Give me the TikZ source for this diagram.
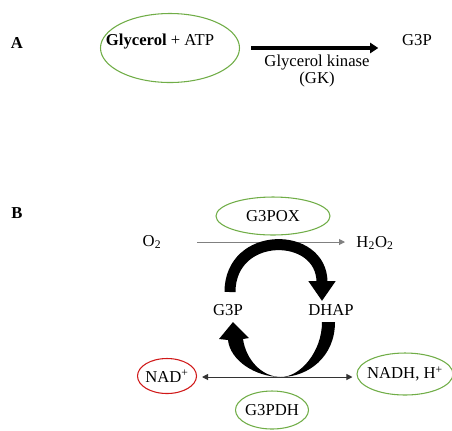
\documentclass[tikz,border=0pt]{standalone}
\usepackage{fontspec}
\setmainfont{Liberation Serif}
\usetikzlibrary{arrows.meta,shapes.geometric,calc}
\definecolor{leaf}{HTML}{70AD47}
\definecolor{brick}{HTML}{D01818}
\definecolor{rule}{HTML}{808080}
\definecolor{ink}{HTML}{333333}
\tikzset{px/.style={x=.75pt,y=-.75pt,line width=.75pt,font=\fontsize{12.5}{12.75}\selectfont},
  ring/.style={draw=#1,ellipse,inner sep=-8pt,line width=.8pt},
  tag/.style={font=\bfseries\fontsize{12.5}{15}\selectfont},
  flow/.style={line width=.75pt,-{Triangle[length=4.5pt,width=4.5pt]}},
  cyc/.style={line width=8.25pt,-{Triangle[length=15pt,width=19.5pt]}}}

\begin{document}
\begin{tikzpicture}[px]
  \useasboundingbox (0,0) rectangle (452,430);
  % A: glycerol kinase step
  \node[tag] (pa) at (17,43) {A};
  \node[ring=leaf,minimum width=104.25pt,minimum height=51.75pt] (gly) at (170,48) {};
  \node (sub) at (160,42) {\textbf{Glycerol} + ATP};
  \node (prod) at (417,40) {G3P};
  \draw[line width=3pt,-{Triangle[length=6pt,width=7.5pt]}] ($(gly.east)+(11,0)$) -- ($(prod.west |- gly.east)+(-19,0)$);
  \node[align=center] (gk) at (317,71) {Glycerol kinase\\(GK)};
  % B: G3P / DHAP shuttle
  \node[tag] (pb) at (17,213) {B};
  \node[ring=leaf,minimum width=85.5pt,minimum height=28.5pt] (gpox) at (273,216) {G3POX};
  \node (o2) at (152,242) {O\textsubscript{2}};
  \node (h2o2) at (375,243) {H\textsubscript{2}O\textsubscript{2}};
  \draw[flow,rule] ($(o2)+(45,0)$) -- ($(h2o2 |- o2)+(-30,0)$);
  \node (g3p) at (228,310) {G3P};
  \node (dhap) at (331,310) {DHAP};
  \draw[cyc] ($(g3p)+(2,-18)$) .. controls +(0,-62) and +(0,-70) .. ($(dhap)+(-9,-9)$);
  \fill ($(dhap)+(4,12)$) .. controls +(0,35) and +(27,0) .. ++(-54,55)
    .. controls +(-26,0) and +(2,20) .. ++(-53,-37)
    -- ++(-9,-1) -- ++(14,-17) -- ++(16,16) -- ++(-6,1)
    .. controls +(3,21) and +(-19,0) .. ++(38,38)
    .. controls +(19,0) and +(0,30) .. ++(41,-55) -- cycle;
  \node[ring=brick,minimum width=44.25pt,minimum height=26.25pt] (nad) at (167,376) {NAD\textsuperscript{+}};
  \node[ring=leaf,minimum width=72pt,minimum height=31.5pt] (nadh) at (405,374) {NADH, H\textsuperscript{+}};
  \draw[flow,ink,{Triangle[length=4.5pt,width=4.5pt]}-{Triangle[length=4.5pt,width=4.5pt]}] ($(nad.east)+(5,1)$) -- ($(nadh.west |- nad.east)+(-4,1)$);
  \node[ring=leaf,minimum width=54.75pt,minimum height=28.5pt] (gpdh) at (272,410) {G3PDH};
\end{tikzpicture}
\end{document}
